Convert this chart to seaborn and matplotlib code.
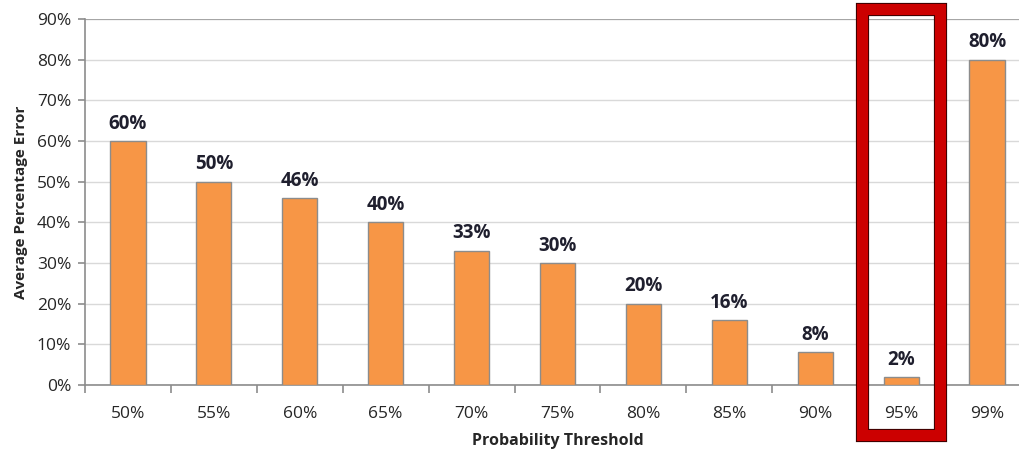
import matplotlib
matplotlib.use("Agg")
import matplotlib.pyplot as plt
from matplotlib.patches import Rectangle
from matplotlib.ticker import FixedLocator, PercentFormatter
import seaborn as sns
import pandas as pd

thresholds = ["50%", "55%", "60%", "65%", "70%", "75%", "80%", "85%", "90%", "95%", "99%"]
avg_error = [60, 50, 46, 40, 33, 30, 20, 16, 8, 2, 80]
highlight = "95%"

sns.set_theme(style="white")
plt.rcParams["font.family"] = ["Open Sans", "DejaVu Sans"]

df = pd.DataFrame({"threshold": thresholds, "error": avg_error})

fig = plt.figure(figsize=(10.19, 4.53), dpi=100)
ax = fig.add_axes([85 / 1019, 1 - 385 / 453, 945 / 1019, 366 / 453])

sns.barplot(data=df, x="threshold", y="error", color="#F79646", saturation=1,
            width=0.41, edgecolor="#8c8c8c", linewidth=1.0, ax=ax, zorder=3)

ax.set_ylim(0, 90)
ax.set_xlim(-0.5, len(thresholds) - 0.5)
ax.set_yticks(range(0, 91, 10))
ax.yaxis.set_major_formatter(PercentFormatter(decimals=0))
ax.grid(axis="y", color="#d9d9d9", linewidth=1.0, zorder=0)
ax.grid(axis="x", visible=False)

for side in ("top", "right"):
    ax.spines[side].set_visible(False)
for side in ("left", "bottom"):
    ax.spines[side].set_color("#8c8c8c")
    ax.spines[side].set_linewidth(1.2)
ax.axhline(90, color="#a6a6a6", linewidth=1.5, zorder=1)

# category labels centred, tick marks between categories
ax.tick_params(axis="x", which="major", length=0, pad=15, labelsize=12.5, labelcolor="#262626")
ax.xaxis.set_minor_locator(FixedLocator([i - 0.5 for i in range(len(thresholds) + 1)]))
ax.tick_params(axis="x", which="minor", length=6, width=1.2, color="#8c8c8c", bottom=True, direction="out")
ax.tick_params(axis="y", length=5, width=1.2, color="#8c8c8c", left=True, direction="out",
               pad=5, labelsize=12.5, labelcolor="#262626")

for i, v in enumerate(avg_error):
    ax.text(i, v + 1.8, f"{v}%", ha="center", va="bottom", fontsize=13.5,
            fontweight="bold", color="#1f1f2e", zorder=4)

ax.set_xlabel("Probability Threshold", fontsize=11.5, fontweight="bold", color="#262626", labelpad=8)
ax.set_ylabel("Average Percentage Error", fontsize=11, fontweight="bold", color="#262626", labelpad=6)

# red frame around the highlighted threshold
idx = thresholds.index(highlight)
trans = ax.get_xaxis_transform()
y0 = (385 - 435) / 366
y1 = (385 - 9) / 366
w = 0.91
ax.add_patch(Rectangle((idx - w / 2, y0), w, y1 - y0, transform=trans, fill=False,
                       edgecolor="#3a0000", linewidth=9.5, clip_on=False, zorder=5))
ax.add_patch(Rectangle((idx - w / 2, y0), w, y1 - y0, transform=trans, fill=False,
                       edgecolor="#cc0000", linewidth=8, clip_on=False, zorder=6))

fig.savefig("out.png", dpi=100)
